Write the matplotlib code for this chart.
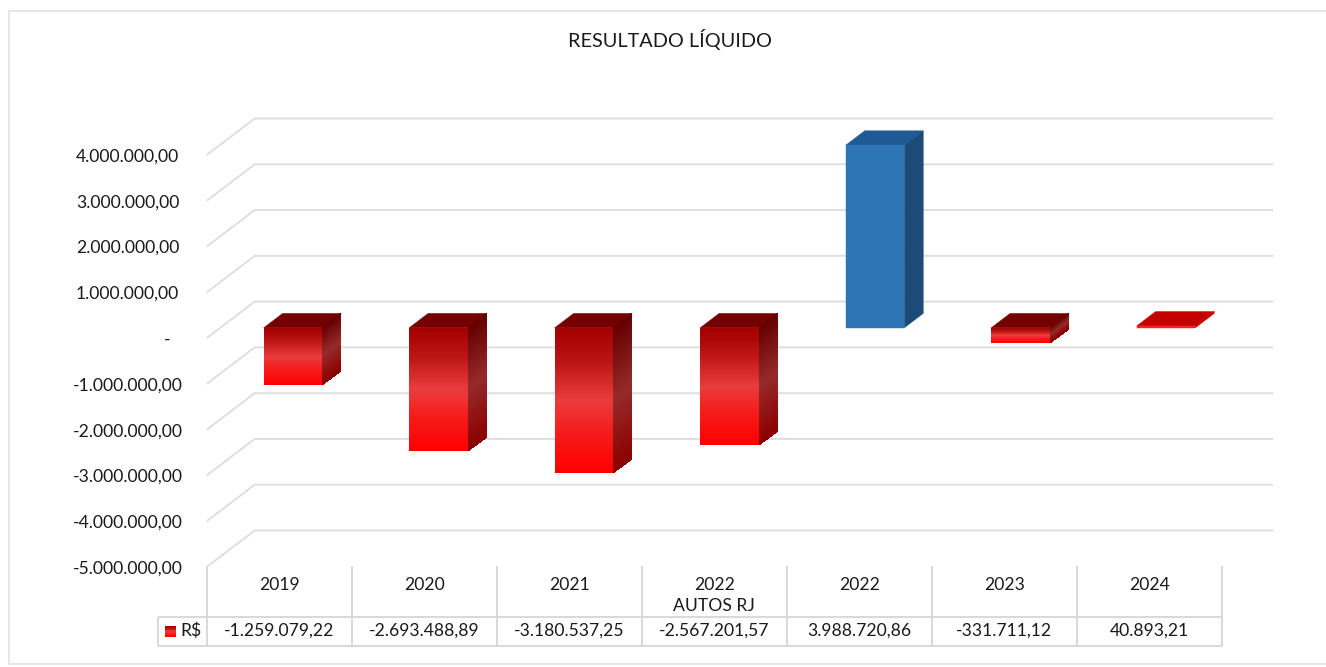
import numpy as np
import matplotlib
matplotlib.use("Agg")
import matplotlib.pyplot as plt
from matplotlib.colors import LinearSegmentedColormap
from matplotlib.patches import Polygon
from matplotlib.transforms import IdentityTransform

# chart data
title = "RESULTADO LÍQUIDO"
categories = ["2019", "2020", "2021", "2022\nAUTOS RJ", "2022", "2023", "2024"]
values = [-1259079.22, -2693488.89, -3180537.25, -2567201.57, 3988720.86, -331711.12, 40893.21]
value_labels = ["-1.259.079,22", "-2.693.488,89", "-3.180.537,25", "-2.567.201,57",
                "3.988.720,86", "-331.711,12", "40.893,21"]
tick_values = [4000000, 3000000, 2000000, 1000000, 0, -1000000, -2000000, -3000000, -4000000, -5000000]
tick_labels = ["4.000.000,00", "3.000.000,00", "2.000.000,00", "1.000.000,00", "-",
               "-1.000.000,00", "-2.000.000,00", "-3.000.000,00", "-4.000.000,00", "-5.000.000,00"]
series_name = "R$"

W, H = 1326, 667
DPI = 100
GRID = "#dedede"
TABLE = "#d6d6d6"
TEXT = "#1a1a1a"
FONT = "Lato"
plt.rcParams["font.family"] = [FONT, "DejaVu Sans"]

# pixel layout of the chart (front plane of the 3D box)
PLOT_L, PLOT_R, PLOT_T, PLOT_B = 206.7, 1225.2, 155.0, 567.0
TABLE_R = 1222.0
DEPTH_X, DEPTH_Y = 48.0, 36.5
BAR_WIDTH = 0.403
BAR_D0, BAR_D1 = 0.282, 0.677

front_cmap = LinearSegmentedColormap.from_list(
    "front", [(0, "#a30000"), (0.22, "#bb1414"), (0.5, "#ea3c3c"), (0.72, "#f51c1c"), (1, "#ff0000")])
side_cmap = LinearSegmentedColormap.from_list(
    "side", [(0, "#650000"), (0.5, "#962a2a"), (1, "#8c0000")])

fig = plt.figure(figsize=(W / DPI, H / DPI), dpi=DPI, facecolor="white")

# background axes in pixels, for the frame, title and table
bg = fig.add_axes([0, 0, 1, 1])
bg.set_xlim(0, W)
bg.set_ylim(H, 0)
bg.axis("off")

ax = fig.add_axes([PLOT_L / W, 1 - PLOT_B / H, (PLOT_R - PLOT_L) / W, (PLOT_B - PLOT_T) / H])
ax.set_xlim(0, len(categories))
ax.set_ylim(-5000000, 4000000)
ax.axis("off")
ax.patch.set_alpha(0)


def project(x, v, depth):
    # data position + depth (0 front, 1 back wall) -> display pixels
    px = ax.transData.transform(np.column_stack([x, v]))
    px[:, 0] += depth * DEPTH_X
    px[:, 1] += depth * DEPTH_Y
    return px


def flat_face(points, color):
    ax.add_patch(Polygon(points, closed=True, facecolor=color, edgecolor=color, linewidth=0.3,
                         transform=IdentityTransform(), clip_on=False, zorder=3))


def shaded_face(x0, x1, d0, d1, top, bottom, cmap):
    levels = np.linspace(top, bottom, 61)
    a = project(np.full(61, x0), levels, d0)
    b = project(np.full(61, x1), levels, d1)
    xs = np.column_stack([a[:, 0], b[:, 0]])
    ys = np.column_stack([a[:, 1], b[:, 1]])
    shade = np.linspace(0, 1, 60).reshape(-1, 1)
    ax.pcolormesh(xs, ys, shade, cmap=cmap, vmin=0, vmax=1, shading="flat",
                  transform=IdentityTransform(), clip_on=False, zorder=3, antialiased=False)


# frame: open on the right, the lines run off the picture
bg.plot([W, 9, 9, W], [664, 664, 11, 11], color="#e2e2e2", lw=1.2)

# gridlines: along the floor side then along the back wall
for v in tick_values:
    x_edge = [0, 0, len(categories)]
    pts = project(np.array(x_edge, float), np.full(3, float(v)), 0)
    pts[1:, 0] += DEPTH_X
    pts[1:, 1] += DEPTH_Y
    ax.plot(pts[:, 0], pts[:, 1], color=GRID, lw=1.35, transform=IdentityTransform(),
            clip_on=False, zorder=1, solid_capstyle="butt", solid_joinstyle="miter")

# bars
for i, v in enumerate(values):
    x0 = i + 0.5 - BAR_WIDTH / 2
    x1 = i + 0.5 + BAR_WIDTH / 2
    hi = max(v, 0)
    lo = min(v, 0)
    if v > 1000000:
        top_c = "#1f5a94"
        side_c = "#1c4b78"
        front_c = "#2e75b6"
    elif v > 0:
        top_c = "#c40000"
        side_c = "#c40000"
        front_c = "#ff2020"
    else:
        top_c = "#750000"
        side_c = None
        front_c = None

    corners = np.array([x0, x1, x1, x0], float)
    top = project(corners, np.full(4, hi), 0)
    top[:2] += [BAR_D0 * DEPTH_X, BAR_D0 * DEPTH_Y]
    top[2:] += [BAR_D1 * DEPTH_X, BAR_D1 * DEPTH_Y]
    flat_face(top, top_c)

    if front_c is None:
        shaded_face(x1, x1, BAR_D0, BAR_D1, hi, lo, side_cmap)
        shaded_face(x0, x1, BAR_D0, BAR_D0, hi, lo, front_cmap)
    else:
        a = project(np.array([x1, x1, x1, x1], float), np.array([hi, hi, lo, lo]), 0)
        a[[0, 3]] += [BAR_D0 * DEPTH_X, BAR_D0 * DEPTH_Y]
        a[[1, 2]] += [BAR_D1 * DEPTH_X, BAR_D1 * DEPTH_Y]
        flat_face(a, side_c)
        f = project(corners, np.array([hi, hi, lo, lo]), BAR_D0)
        flat_face(f, front_c)

# y labels: accounting format leaves a different gap for each sign
for v, lab in zip(tick_values, tick_labels):
    if v > 0:
        gap = 27.5
    elif v == 0:
        gap = 36.5
    else:
        gap = 23.5
    ax.annotate(lab, xy=(0, v), xytext=(-gap * 72 / DPI, -1.5 * 72 / DPI), textcoords="offset points",
                ha="right", va="center", fontsize=12.6, color=TEXT, annotation_clip=False)

# title
bg.text(670, 40, title, ha="center", va="center", fontsize=14.3, color=TEXT)

# data table below the chart
cell_w = (TABLE_R - PLOT_L) / len(categories)
for i in range(len(categories) + 1):
    xp = PLOT_L + i * cell_w
    bg.plot([xp, xp], [566, 646], color=TABLE, lw=1.3, solid_capstyle="butt")
bg.plot([158.3, TABLE_R], [616.7, 616.7], color=TABLE, lw=1.3, solid_capstyle="butt")
bg.plot([158.3, TABLE_R], [646, 646], color=TABLE, lw=1.3, solid_capstyle="butt")
bg.plot([158.3, 158.3], [616.7, 646], color=TABLE, lw=1.3, solid_capstyle="butt")

for i, (cat, lab) in enumerate(zip(categories, value_labels)):
    xc = PLOT_L + (i + 0.5) * cell_w
    bg.text(xc, 577.5, cat, ha="center", va="top", fontsize=12.6,
            color=TEXT, linespacing=1.32, clip_on=False)
    bg.text(xc, 631, lab, ha="center", va="center", fontsize=12.6,
            color=TEXT, clip_on=False)

# legend key
bg.pcolormesh([165, 176], np.linspace(626, 637, 21), np.linspace(0, 1, 20).reshape(-1, 1),
              cmap=front_cmap, vmin=0, vmax=1)
bg.set_xlim(0, W)
bg.set_ylim(H, 0)
bg.text(180, 631, series_name, ha="left", va="center", fontsize=12.6, color=TEXT)

fig.savefig("out.png", dpi=DPI, facecolor="white")
plt.close(fig)
